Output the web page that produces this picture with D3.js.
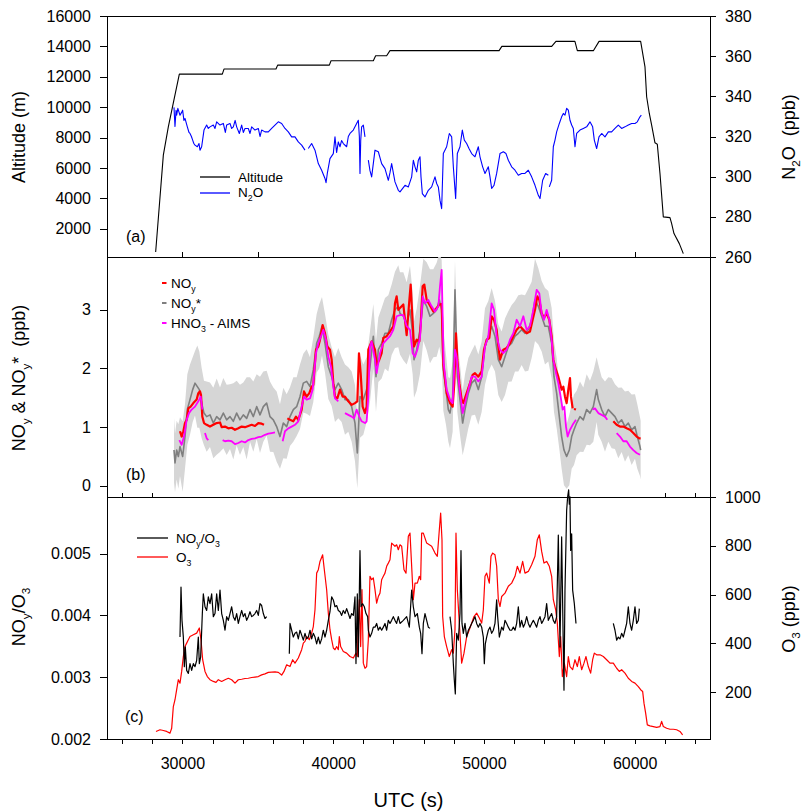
<!DOCTYPE html>
<html lang="en">
<head>
<meta charset="UTF-8">
<title>Flight time series: altitude, N2O, NOy, O3</title>
<script src="https://d3js.org/d3.v7.min.js"></script>
<style>
  body { margin: 0; background: #fff; }
  svg { display: block; font-family: "Liberation Sans", Arial, sans-serif; }
  .axis text { font-size: 16px; fill: #000; font-family: "Liberation Sans", Arial, sans-serif; }
  .axis line { stroke: #000; stroke-width: 1px; shape-rendering: crispEdges; }
  .axis .domain { display: none; }
  .frame { fill: none; stroke: #000; stroke-width: 1px; shape-rendering: crispEdges; }
  .title { font-size: 18px; fill: #000; white-space: pre; }
  .legend { font-size: 13.5px; fill: #000; }
  .panel-label { font-size: 16px; fill: #000; }
  .line { fill: none; stroke-linejoin: round; }
</style>
</head>
<body>
<div id="chart"></div>
<script>
// --- data: [UTC s, value], null = gap ---
const altitude = [[28228,480],[28737,6850],[29068,8710],[29798,12180],[32650,12180],[32760,12510],[36210,12510],[36320,12770],
  [39750,12770],[39860,13060],[42667,13060],[42820,13390],[43550,13390],[43770,13720],[51010,13720],[51190,14000],[54500,14000],
  [54780,14330],[56040,14330],[56200,13720],[57264,13720],[57640,14330],[60400,14330],[60687,12660],[60797,10690],[60974,9590],
  [61129,8820],[61350,7660],[61505,7570],[61682,5640],[61903,2790],[62345,2740],[62456,2350],[62611,1690],[62965,1030],[63230,370]];

const n2o = [[29444,334.5],[29510,325],[29580,333],[29621,330.6],[29700,334],[29842,330.6],[29950,332],[30019,333.1],[30100,328],
  [30174,329.0],[30329,324.8],[30440,322],[30505,321.5],[30600,320],[30682,318.2],[30760,316.5],[30837,315.7],[30992,314.9],
  [31103,316.5],[31169,313.2],[31279,314.9],[31434,323.2],[31611,325.7],[31720,324],[31832,324.8],[32053,325.7],[32164,324],
  [32274,327.3],[32495,325.7],[32716,326.5],[32850,322],[32937,325.7],[33158,326.5],[33270,324],[33380,324.8],[33500,328],
  [33601,324.8],[33778,321.5],[33933,325.7],[34043,322],[34154,324.0],[34375,324.0],[34486,321.5],[34596,324.8],[34817,323.2],
  [35038,324.0],[35150,320],[35259,323.2],[35480,322.3],[35701,322.3],[35922,324.0],[36143,325.7],[36364,327.3],[36586,326.5],
  [36807,324.0],[37028,322.3],[37249,319.8],[37470,319.8],[37691,317.3],[37912,315.7],[38133,313.2],null,[38354,314.0],
  [38575,316.5],[38796,313.2],[39017,306.5],[39238,303.2],[39460,299.1],[39530,297],[39614,301.6],[39791,309.0],[40012,311.5],
  [40123,319.8],[40230,312],[40344,317.3],[40455,314.9],[40560,318],[40676,316.5],[40897,314.9],[41008,320],[41118,321.5],
  [41339,323.2],[41560,326.5],[41671,328.1],[41740,320],[41782,301.6],[41830,318],[41892,324.8],[42003,325.7],[42114,319.8],null,
  [42335,308.2],[42445,303],[42556,299.9],[42777,313.2],[42998,312.4],[43219,306.5],[43440,304.0],[43661,298.2],[43772,302],
  [43882,306.5],[44103,297.4],[44324,293.2],[44436,292.4],[44768,295.7],[44989,294.9],[45210,299.9],[45320,308.2],[45431,304.9],
  [45542,302.4],[45652,308.2],[45763,309.9],[45829,299.9],[45917,291.6],[46094,289.9],[46315,293.2],[46536,294.9],[46647,297.4],
  [46758,299.9],[46868,296.6],[46979,294.9],[47089,288.3],[47200,284.1],[47310,311.5],[47531,314.9],[47708,321.5],[47863,319.8],
  [47974,304.9],[48128,289.1],[48239,311.5],[48416,314.9],[48570,323.2],[48703,318.2],[48858,316.5],[49013,314.0],[49190,311.5],
  [49411,309.9],[49632,314.9],[49742,309.9],[49919,304.9],[50074,301.6],[50295,304.9],[50406,299.9],[50516,294.1],[50671,295.7],
  [50848,301.6],[51069,311.5],[51290,312.4],[51467,311.5],[51622,308.2],[51843,304.9],[52064,303.2],[52285,300.7],[52506,301.6],
  [52727,301.6],[52948,303.2],[53169,299.9],[53391,295.7],[53612,290.7],[53722,289.1],[53899,298.2],[54098,301.6],[54275,300.7],null,
  [54341,294.9],[54496,298.2],[54607,314.9],[54717,318.2],[54828,322.3],[55005,326.5],[55159,329.8],[55270,331.5],[55380,330.6],
  [55491,334.0],[55602,333.1],[55712,328.1],[55823,325.7],[55933,324.0],[56044,314.9],[56154,321.5],[56375,323.2],[56597,324.0],
  [56818,324.8],[57039,327.3],[57216,324.8],[57326,318.2],[57481,314.0],[57636,319.8],[57813,321.5],[58034,319.8],[58255,322.3],
  [58476,322.3],[58697,324.0],[58918,325.7],[59139,324.0],[59360,324.8],[59581,325.7],[59803,326.5],[60024,326.5],[60178,327.3],
  [60355,329.8],[60444,330.6]];

const noy = [[29842,0.93],[29953,0.84],[30064,0.93],[30174,1.07],[30285,1.125],[30395,1.32],[30550,1.35],[30727,1.41],[30948,1.47],
  [31058,1.58],[31169,1.61],[31235,1.55],[31324,1.18],[31434,1.07],[31611,1.04],[31832,1.01],[32053,1.04],[32275,1.07],[32496,1.08],
  [32606,1.0],[32827,1.01],[33048,0.98],[33269,0.99],[33491,0.955],[33712,0.98],[33933,1.01],[34154,1.0],[34375,1.02],[34596,1.04],
  [34817,1.02],[35038,1.07],[35259,1.06],[35414,1.04],null,[36962,1.15],[37139,1.125],[37360,1.10],[37537,1.18],[37691,1.125],
  [37913,1.30],[38067,1.61],[38244,1.52],[38421,1.58],[38576,1.69],[38686,1.72],[38863,2.32],[39018,2.375],[39129,2.49],[39305,2.74],
  [39460,2.60],[39615,2.375],[39792,2.32],[39903,2.15],[40013,1.75],[40124,1.52],[40278,1.49],[40455,1.64],[40632,1.52],[40787,1.52],
  [41008,1.44],[41229,1.38],[41450,1.41],[41605,1.44],[41715,2.26],[41826,1.92],[41959,1.35],[42113,1.24],[42224,1.35],[42335,2.32],
  [42556,2.46],[42777,2.32],[42887,2.06],[43064,2.15],[43219,2.26],[43330,2.52],[43551,2.55],[43772,2.63],[43993,2.72],[44103,3.11],
  [44214,3.23],[44324,3.0],[44435,3.03],[44657,3.09],[44878,2.57],[45033,3.09],[45144,3.43],[45254,2.89],[45365,2.375],[45542,2.49],
  [45718,2.46],[45807,2.74],[45939,3.40],[46050,3.43],[46205,3.17],[46382,3.09],[46647,2.97],[46868,3.03],[47045,3.09],[47200,3.10],
  [47310,2.06],[47531,1.58],[47753,1.41],[47929,1.35],[48040,1.75],[48150,2.60],[48239,2.15],[48372,1.75],[48526,1.47],[48637,1.41],
  [48858,1.58],[49079,1.75],[49256,1.89],[49411,1.92],[49632,1.86],[49853,1.95],[50008,2.32],[50185,2.49],[50361,2.52],[50516,2.89],
  [50671,2.83],[50848,2.66],[50958,2.375],[51069,2.15],[51290,2.32],[51511,2.35],[51732,2.43],[51953,2.55],[52175,2.66],[52396,2.72],
  [52617,2.66],[52838,2.60],[53059,2.63],[53236,2.83],[53391,3.0],[53545,3.23],[53678,3.17],[53833,2.94],[53988,2.86],[54164,2.94],
  [54341,2.83],[54496,2.55],[54607,2.15],[54783,1.98],[54938,1.86],[55049,1.75],[55159,1.64],[55270,1.69],[55380,1.52],[55491,1.41],
  [55602,1.64],[55712,1.835],[55779,1.52],[55889,1.32],null,[55977,1.31],[56110,1.30],null,[58586,1.10],[58808,1.04],[59029,1.01],
  [59250,1.01],[59471,0.98],[59692,0.955],[59913,0.90],[60134,0.84],[60311,0.81],[60400,0.81]];

// [UTC, NOy*, spread of the light grey band]
const noyStar = [[29444,0.61,0.55],[29511,0.39,0.5],[29621,0.61,0.5],[29732,0.50,0.55],[29842,0.67,0.5],[30019,0.50,0.6],
  [30174,0.84,0.55],[30329,1.30,0.6],[30506,1.47,0.6],[30683,1.64,0.55],[30837,1.75,0.55],[30992,1.69,0.7],[31125,1.64,0.65],
  [31280,1.41,0.6],[31434,1.24,0.55],[31611,1.18,0.6],[31832,1.21,0.55],[32053,1.07,0.6],[32275,1.18,0.65],[32496,1.125,0.55],
  [32717,1.24,0.6],[32938,1.125,0.6],[33159,1.18,0.55],[33380,1.10,0.65],[33601,1.24,0.55],[33822,1.125,0.6],[34043,1.21,0.55],
  [34264,1.15,0.7],[34486,1.30,0.55],[34707,1.18,0.6],[34928,1.35,0.55],[35149,1.21,0.65],[35370,1.35,0.6],[35591,1.41,0.55],
  [35812,1.18,0.6],[36033,1.125,0.55],[36254,1.01,0.6],[36475,0.84,0.55],[36697,1.07,0.6],[36918,1.01,0.55],[37139,1.18,0.5],
  [37360,1.30,0.55],[37581,1.35,0.5],[37802,1.52,0.55],[38023,1.75,0.5],[38244,1.78,0.55],[38465,1.69,0.5],[38686,1.98,0.55],
  [38908,2.43,0.5],[39084,2.55,0.55],[39261,2.72,0.5],[39460,2.43,0.5],[39681,2.03,0.55],[39903,1.86,0.5],[40124,1.64,0.55],
  [40345,1.75,0.6],[40566,1.64,0.55],[40787,1.47,0.6],[41008,1.47,0.55],[41229,1.35,0.6],[41450,1.07,0.65],[41605,0.56,0.6],
  [41782,1.52,0.7],[42003,1.47,0.6],[42224,1.64,0.55],[42445,2.03,0.6],[42666,2.55,0.55],[42843,1.86,0.6],[42998,2.32,0.55],
  [43219,2.43,0.6],[43440,2.60,0.6],[43661,2.60,0.65],[43882,2.83,0.6],[44103,3.00,0.65],[44324,3.06,0.7],[44435,2.94,0.7],
  [44657,2.89,0.75],[44878,2.77,0.7],[45099,3.00,0.75],[45276,2.60,0.7],[45365,2.15,0.65],[45542,2.32,0.7],[45763,2.66,0.75],
  [45984,3.17,0.7],[46205,3.06,0.75],[46426,2.89,0.8],[46647,2.94,0.75],[46868,3.00,0.8],[47045,3.17,0.8],[47200,3.00,0.85],
  [47310,1.98,0.7],[47487,1.64,0.6],[47642,1.30,0.55],[47753,1.24,0.6],[47929,1.52,0.6],[48084,3.34,0.5],[48239,1.86,0.6],
  [48416,1.47,0.6],[48593,1.07,0.55],[48747,1.30,0.6],[48969,1.58,0.6],[49190,1.75,0.55],[49411,1.81,0.6],[49632,1.64,0.6],
  [49853,1.86,0.6],[50074,2.375,0.65],[50295,2.55,0.6],[50516,2.72,0.65],[50737,2.55,0.6],[50958,2.15,0.6],[51180,2.03,0.6],
  [51401,2.20,0.65],[51622,2.375,0.6],[51843,2.43,0.65],[52064,2.55,0.6],[52285,2.60,0.65],[52506,2.66,0.6],[52727,2.60,0.65],
  [52948,2.66,0.7],[53169,2.83,0.65],[53391,3.17,0.7],[53612,3.06,0.65],[53833,2.89,0.6],[54054,2.72,0.65],[54275,2.72,0.6],
  [54496,2.43,0.6],[54651,1.86,0.6],[54828,1.58,0.6],[55005,1.18,0.55],[55159,0.84,0.55],[55314,0.61,0.6],[55491,0.50,0.55],
  [55668,0.61,0.6],[55823,0.84,0.55],[55977,0.955,0.6],[56154,1.07,0.55],[56375,1.18,0.6],[56597,1.125,0.55],[56818,1.30,0.6],
  [57039,1.24,0.55],[57260,1.35,0.6],[57481,1.64,0.55],[57591,1.47,0.6],[57813,1.30,0.55],[58034,1.18,0.6],[58255,1.30,0.55],
  [58476,1.24,0.6],[58697,1.18,0.55],[58918,1.07,0.6],[59139,1.125,0.55],[59360,1.01,0.6],[59581,1.07,0.55],[59803,0.955,0.6],
  [60024,1.01,0.55],[60178,0.84,0.55],[60355,0.67,0.5],[60400,0.61,0.5]];

const hno3 = [[29798,0.78],[29953,0.70],[30108,0.84],[30285,1.125],[30439,1.24],[30616,1.30],[30837,1.35],[31058,1.44],[31213,1.52],
  [31324,1.30],null,[31501,0.90],[31611,0.81],[31722,0.78],null,[32672,0.78],[32827,0.76],[33048,0.77],[33269,0.76],[33491,0.71],
  [33712,0.73],[33933,0.76],[34154,0.74],[34375,0.78],[34596,0.80],[34817,0.81],[35038,0.83],[35259,0.84],[35480,0.87],[35702,0.89],
  [35923,0.90],[36144,0.91],null,[36652,0.76],[36807,0.93],[37028,0.98],[37249,1.01],[37470,1.04],[37691,1.10],[37913,1.35],
  [38067,1.52],[38244,1.47],[38465,1.49],[38642,1.64],[38863,2.26],[39018,2.43],[39195,2.55],[39350,2.66],[39527,2.49],[39681,2.20],
  [39858,2.03],[40013,1.69],[40124,1.49],[40345,1.44],null,[40787,1.24],[41008,1.21],[41229,1.18],[41384,1.15],[41561,1.30],
  [41738,1.18],[41892,1.10],[42113,1.07],[42224,1.10],[42335,1.52],[42445,2.375],[42556,2.46],[42777,2.15],[42887,1.92],[43108,2.26],
  [43330,2.43],[43551,2.49],[43772,2.55],[43993,2.66],[44214,2.89],[44435,2.91],[44657,2.91],[44878,2.72],[45099,2.66],[45276,2.26],
  [45431,2.20],[45586,2.32],[45763,2.52],[45939,3.23],[46094,3.11],[46315,3.17],[46536,3.06],[46758,2.97],[46979,3.06],[47089,3.40],
  [47200,3.68],[47266,2.89],[47332,2.09],[47531,1.64],[47753,1.47],[47929,1.41],[48084,2.32],[48195,2.20],[48372,1.69],[48593,1.24],
  [48747,1.41],[48969,1.64],[49190,1.86],[49411,1.86],[49632,1.78],[49853,1.86],[50074,2.375],[50295,2.55],[50516,3.11],[50671,3.0],
  [50848,2.55],[51069,2.32],[51290,2.26],[51511,2.32],[51732,2.49],[51953,2.60],[52175,2.83],[52396,2.72],[52617,2.89],[52838,2.66],
  [53059,2.72],[53280,3.0],[53501,3.34],[53678,3.28],[53833,2.94],[53988,2.83],[54164,3.0],[54341,2.83],[54496,2.49],[54607,2.15],
  [54783,1.92],[54938,1.75],[55093,1.52],[55226,1.30],[55336,1.35],[55447,1.01],[55557,0.84],[55712,0.955],[55889,1.04],[56110,1.125],
  null,[57216,1.30],[57370,1.32],[57591,1.24],[57813,1.21],[58034,1.18],[58188,1.125],null,[58808,0.90],[59029,0.84],[59250,0.76],
  [59471,0.76],[59692,0.67],[59913,0.61],[60134,0.56],[60355,0.53]];

const noyO3 = [[29842,.00365],[29909,.00446],[29975,.00392],[30064,.00365],[30130,.00317],[30196,.00349],[30285,.00311],[30395,.00306],
  [30506,.00322],[30616,.00311],[30727,.00322],[30837,.00317],[30948,.00327],[31058,.00365],[31125,.00322],[31213,.00333],[31324,.00403],
  [31390,.00435],[31501,.00414],[31611,.00408],[31722,.0043],[31832,.00419],[31943,.00435],[32053,.00398],[32164,.00403],[32275,.00435],
  [32385,.00408],[32496,.00441],[32606,.00403],[32717,.00392],[32827,.00376],[32938,.00398],[33048,.00392],[33159,.00403],[33269,.00414],
  [33380,.00398],[33491,.00392],[33601,.00403],[33712,.00387],[33822,.00398],[33933,.00408],[34043,.00398],[34154,.00403],[34264,.00392],
  [34375,.00398],[34486,.00406],[34596,.00398],[34707,.004],[34817,.00403],[34928,.00408],[35038,.004],[35149,.00419],[35259,.00416],
  [35370,.00403],[35480,.00395],[35591,.00398],null,[37094,.00338],[37139,.00387],[37249,.00376],[37360,.00365],[37470,.00371],
  [37581,.00373],[37691,.00362],[37802,.00376],[37913,.00368],[38023,.0036],[38134,.00371],[38244,.00362],[38355,.00365],[38465,.00376],
  [38576,.00362],[38686,.00371],[38797,.00365],[38908,.00354],[39018,.00365],[39129,.00354],[39239,.00362],[39350,.00376],[39460,.00365],
  [39571,.00376],[39681,.00392],[39792,.00406],[39903,.0043],[40013,.00425],[40124,.00414],[40234,.00416],[40345,.00408],[40455,.00406],
  [40566,.004],[40676,.00408],[40787,.00403],[40897,.00411],[41008,.00403],[41119,.00395],[41229,.00403],[41340,.004],[41450,.0043],
  [41516,.00322],[41605,.00435],[41671,.00333],[41782,.00505],[41848,.00414],[41959,.00419],[42069,.00414],[42180,.00403],[42290,.00398],
  [42335,.00376],[42445,.00365],[42556,.00371],[42666,.00381],[42777,.00381],[42887,.00387],[42998,.00376],[43108,.00381],[43219,.00376],
  [43330,.00381],[43440,.00387],[43551,.00376],[43661,.00392],[43772,.00387],[43882,.00392],[43993,.00398],[44103,.00392],[44214,.00387],
  [44324,.00398],[44436,.00387],[44657,.00392],[44878,.00398],[45055,.00381],[45210,.00441],[45320,.00414],[45431,.00398],[45586,.00403],
  [45718,.00381],[45807,.00371],[45895,.00338],[45984,.00387],[46094,.00403],[46205,.00392],[46315,.00381],[46426,.00379],null,
  [47753,.00398],[47863,.00376],[47974,.00322],[48040,.00295],[48106,.00273],[48195,.00371],[48305,.0036],[48416,.00403],[48482,.00505],
  [48548,.00387],[48637,.00371],[48747,.00387],[48858,.00365],[48969,.00376],[49079,.00381],[49190,.00387],[49300,.00392],[49411,.00398],
  [49521,.00387],[49632,.00381],[49742,.00387],[49853,.00381],[49964,.00365],[50030,.00322],[50096,.00354],[50185,.00365],[50295,.00376],
  [50406,.00381],[50516,.00371],[50627,.00376],[50737,.00387],[50848,.00425],[50914,.00398],[51025,.00365],[51180,.00381],[51290,.00376],
  [51401,.00392],[51511,.00387],[51622,.00381],[51732,.00376],[51843,.00376],[51953,.00381],[52064,.00376],[52175,.00387],[52285,.00414],
  [52396,.00381],[52506,.00392],[52617,.00381],[52727,.00387],[52838,.00398],[52948,.00387],[53059,.00381],[53169,.00387],[53280,.00392],
  [53391,.00387],[53501,.00381],[53612,.00392],[53722,.00398],[53833,.00387],[53943,.00392],[54054,.00398],[54164,.00419],[54275,.00392],
  [54386,.00398],[54496,.00403],[54607,.00392],[54717,.00387],[54828,.00398],[54938,.0053],[55049,.00349],[55159,.00527],[55270,.00344],
  [55314,.00279],[55380,.00441],[55491,.0057],[55557,.00592],[55624,.00603],[55668,.0058],[55712,.00592],[55756,.00505],[55823,.00532],
  [55889,.00441],[56000,.00419],[56110,.00387],null,[58586,.00387],[58697,.00376],[58808,.0036],[58918,.00365],[59029,.00362],
  [59139,.00371],[59250,.00365],[59360,.00376],[59471,.00387],[59581,.00414],[59692,.00387],[59803,.00376],[59913,.00392],[60024,.00414],
  [60134,.00387],[60245,.00392],[60311,.00411]];

const o3 = [[28250,39],[28516,46],[28737,43],[28958,39],[29179,32],[29290,52],[29400,141],[29511,169],[29621,210],[29732,251],
  [29842,237],[29953,285],[30064,346],[30174,387],[30285,401],[30395,415],[30506,428],[30727,435],[30948,442],[31125,463],[31235,415],
  [31346,333],[31501,285],[31655,264],[31832,251],[32053,244],[32230,240],[32385,251],[32606,244],[32827,251],[33048,257],[33269,251],
  [33491,237],[33712,251],[33933,253],[34154,256],[34375,257],[34596,260],[34817,262],[35038,264],[35259,271],[35480,275],[35702,281],
  [35923,282],[36144,283],[36365,281],[36586,270],[36741,285],[36918,312],[37139,305],[37316,333],[37470,319],[37691,340],[37913,374],
  [38023,401],[38134,408],[38244,428],[38421,415],[38576,442],[38686,469],[38797,538],[38908,688],[39018,702],[39129,736],[39305,763],
  [39416,702],[39571,620],[39681,524],[39792,456],[39903,415],[40013,381],[40124,374],[40234,387],[40345,374],[40411,428],[40499,387],
  [40676,367],[40897,360],[41119,346],[41340,340],[41516,360],[41605,346],[41738,579],[41826,387],[41914,620],[42003,319],[42113,298],
  [42224,305],[42335,415],[42445,675],[42556,661],[42666,668],[42777,620],[42887,565],[42998,592],[43108,606],[43219,661],[43330,675],
  [43440,688],[43551,716],[43661,729],[43772,743],[43882,811],[44103,798],[44214,804],[44324,784],[44436,804],[44547,798],[44701,702],
  [44834,688],[44989,839],[45099,852],[45210,716],[45320,579],[45431,647],[45586,647],[45718,675],[45807,661],[45873,852],[45984,852],
  [46205,811],[46382,804],[46536,798],[46758,770],[46912,757],[47045,866],[47133,934],[47222,825],[47266,510],[47377,428],[47531,387],
  [47708,346],[47863,374],[47974,360],[48084,456],[48150,852],[48239,620],[48372,483],[48526,319],[48681,360],[48858,428],[49035,456],
  [49190,483],[49344,510],[49521,524],[49698,504],[49853,483],[49964,538],[50074,675],[50185,688],[50361,647],[50472,757],[50583,770],
  [50737,763],[50848,716],[50958,579],[51069,551],[51180,592],[51401,606],[51622,634],[51843,647],[52064,675],[52219,716],[52396,688],
  [52572,736],[52727,688],[52948,695],[53169,722],[53391,757],[53545,825],[53678,845],[53833,777],[53988,729],[54164,736],[54341,716],
  [54496,675],[54607,579],[54761,538],[54872,483],[55005,346],[55093,428],[55204,264],[55336,319],[55491,264],[55602,346],[55712,305],
  [55889,292],[56044,333],[56199,305],[56331,346],[56486,292],[56641,319],[56774,346],[56928,305],[57083,278],[57216,333],[57326,360],
  [57481,353],[57702,353],[57923,346],[58144,333],[58365,319],[58586,319],[58808,298],[58984,285],[59139,292],[59360,278],[59581,257],
  [59803,244],[60024,237],[60245,223],[60400,210],[60532,203],[60621,155],[60731,114],[60842,66],[61018,62],[61240,59],[61461,56],
  [61682,59],[61792,80],[61903,59],[62124,52],[62345,48],[62566,48],[62787,46],[63008,39],[63185,25]];

// tick values
const utcTicks = d3.range(26000, 65000, 2000);
const utcLabelTicks = [30000, 40000, 50000, 60000];
const utcInnerTicksA = [30000, 35000, 40000, 45000, 50000, 55000, 60000];
const utcInnerTicksB = [26000, 28000, 62000, 64000];
const altTicks = [2000, 4000, 6000, 8000, 10000, 12000, 14000, 16000];
const n2oTicks = [260, 280, 300, 320, 340, 360, 380];
const noyTicks = [0, 1, 2, 3];
const ratioTicks = [0.002, 0.003, 0.004, 0.005];
const o3Ticks = [200, 400, 600, 800, 1000];

// --- layout ---
const W = 802, H = 812;
const L = 107, R = 710;
const aTop = 16, aBot = 257, bBot = 497, cBot = 739;

const svg = d3.select("#chart").append("svg").attr("width", W).attr("height", H);

const x = d3.scaleLinear().domain([25000, 65000]).range([L, R]);
const yAlt = d3.scaleLinear().domain([150, 16000]).range([aBot, aTop]);
const yN2O = d3.scaleLinear().domain([260, 380]).range([aBot, aTop]);
const yNoy = d3.scaleLinear().domain([-0.19, 3.9]).range([bBot, aBot]);
const yRatio = d3.scaleLinear().domain([0.002, 0.005916]).range([cBot, bBot]);
const yO3 = d3.scaleLinear().domain([8, 1000]).range([cBot, bBot]);

// clip for panel b band
svg.append("clipPath").attr("id", "clipB").append("rect")
  .attr("x", L).attr("y", aBot).attr("width", R - L).attr("height", bBot - aBot);

// --- axes ---
function leftAxis(scale, ticks, fmt) {
  svg.append("g").attr("class", "axis").attr("transform", `translate(${L},0)`)
    .call(d3.axisLeft(scale).tickValues(ticks).tickSize(7).tickPadding(9).tickSizeOuter(0).tickFormat(fmt));
}
function rightAxis(scale, ticks, fmt) {
  svg.append("g").attr("class", "axis").attr("transform", `translate(${R},0)`)
    .call(d3.axisRight(scale).tickValues(ticks).tickSize(6).tickPadding(9).tickSizeOuter(0).tickFormat(fmt));
}
leftAxis(yAlt, altTicks, d3.format("d"));
rightAxis(yN2O, n2oTicks, d3.format("d"));
leftAxis(yNoy, noyTicks, d3.format("d"));
leftAxis(yRatio, ratioTicks, d3.format(".3f"));
rightAxis(yO3, o3Ticks, d3.format("d"));

svg.append("g").attr("class", "axis").attr("transform", `translate(0,${cBot})`)
  .call(d3.axisBottom(x).tickValues(utcTicks).tickSize(5).tickPadding(14).tickSizeOuter(0)
    .tickFormat(d => utcLabelTicks.includes(d) ? d : ""));
svg.append("g").attr("class", "axis").attr("transform", `translate(0,${aBot})`)
  .call(d3.axisTop(x).tickValues(utcInnerTicksA).tickSize(5).tickSizeOuter(0).tickFormat(""));
svg.append("g").attr("class", "axis").attr("transform", `translate(0,${bBot})`)
  .call(d3.axisTop(x).tickValues(utcInnerTicksB).tickSize(4).tickSizeOuter(0).tickFormat(""));

// frames
[[aTop, aBot], [aBot, bBot], [bBot, cBot]].forEach(([t, b]) => {
  svg.append("rect").attr("class", "frame").attr("x", L).attr("y", t).attr("width", R - L).attr("height", b - t);
});

// --- text with subscripts: parts starting with "_" are subscripts ---
function rich(sel, parts, size) {
  const shift = size * 0.3;
  let down = false;
  parts.forEach(p => {
    const sub = p.startsWith("_");
    const t = sel.append("tspan").text(sub ? p.slice(1) : p);
    if (sub) {
      t.attr("font-size", size * 0.65);
      if (!down) t.attr("dy", shift);
      down = true;
    } else if (down) {
      t.attr("dy", -shift);
      down = false;
    }
  });
  return sel;
}

function yTitle(cx, cy, parts) {
  const t = svg.append("text").attr("class", "title").attr("text-anchor", "middle")
    .attr("transform", `translate(${cx},${cy}) rotate(-90)`);
  rich(t, parts, 18);
}
yTitle(25, 137, ["Altitude (m)"]);
yTitle(25, 378, ["NO", "_y", " & NO", "_y", "*  (ppb)"]);
yTitle(25, 617, ["NO", "_y", "/O", "_3"]);
yTitle(795, 137, ["N", "_2", "O  (ppb)"]);
yTitle(795, 619, ["O", "_3", " (ppb)"]);

svg.append("text").attr("x", (L + R) / 2).attr("y", 807).attr("text-anchor", "middle")
  .style("font-size", "20px").text("UTC (s)");

svg.append("text").attr("class", "panel-label").attr("x", 126).attr("y", 242).text("(a)");
svg.append("text").attr("class", "panel-label").attr("x", 126).attr("y", 480).text("(b)");
svg.append("text").attr("class", "panel-label").attr("x", 125).attr("y", 722).text("(c)");

// --- lines ---
const lineOf = ys => d3.line().defined(d => d !== null).x(d => x(d[0])).y(d => ys(d[1]));

// panel a
svg.append("path").datum(altitude).attr("class", "line").attr("stroke", "#000").attr("stroke-width", 1.1).attr("d", lineOf(yAlt));
svg.append("path").datum(n2o).attr("class", "line").attr("stroke", "#0000ff").attr("stroke-width", 1.1).attr("d", lineOf(yN2O));

// panel b
const band = d3.area().x(d => x(d[0])).y0(d => yNoy(d[1] - d[2])).y1(d => yNoy(d[1] + d[2]));
svg.append("path").datum(noyStar).attr("clip-path", "url(#clipB)").attr("fill", "#d6d6d6").attr("d", band);
svg.append("path").datum(noyStar).attr("class", "line").attr("stroke", "#7f7f7f").attr("stroke-width", 1.6).attr("d", lineOf(yNoy));
svg.append("path").datum(noy).attr("class", "line").attr("stroke", "#ff0000").attr("stroke-width", 2.2).attr("d", lineOf(yNoy));
svg.append("path").datum(hno3).attr("class", "line").attr("stroke", "#ff00ff").attr("stroke-width", 1.8).attr("d", lineOf(yNoy));

// panel c
svg.append("path").datum(o3).attr("class", "line").attr("stroke", "#ff0000").attr("stroke-width", 1.2).attr("d", lineOf(yO3));
svg.append("path").datum(noyO3).attr("class", "line").attr("stroke", "#000").attr("stroke-width", 1.2).attr("d", lineOf(yRatio));

// --- legends ---
function legendLine(x1, x2, y, color, tx, ty, parts) {
  svg.append("line").attr("x1", x1).attr("x2", x2).attr("y1", y).attr("y2", y)
    .attr("stroke", color).attr("stroke-width", 1.3);
  rich(svg.append("text").attr("class", "legend").attr("x", tx).attr("y", ty), parts, 13.5);
}
legendLine(200, 230, 177, "#000", 238, 182, ["Altitude"]);
legendLine(200, 230, 193, "#0000ff", 238, 197, ["N", "_2", "O"]);

function legendDash(y, color, ty, parts) {
  svg.append("line").attr("x1", 162).attr("x2", 166.5).attr("y1", y).attr("y2", y)
    .attr("stroke", color).attr("stroke-width", 2);
  rich(svg.append("text").attr("class", "legend").attr("x", 171).attr("y", ty), parts, 13.5);
}
legendDash(283, "#ff0000", 288, ["NO", "_y"]);
legendDash(303, "#7f7f7f", 308, ["NO", "_y", "*"]);
legendDash(323, "#ff00ff", 328, ["HNO", "_3", " - AIMS"]);

legendLine(137, 168, 538, "#000", 176, 543, ["NO", "_y", "/O", "_3"]);
legendLine(137, 168, 557, "#ff0000", 176, 562, ["O", "_3"]);
</script>
</body>
</html>
